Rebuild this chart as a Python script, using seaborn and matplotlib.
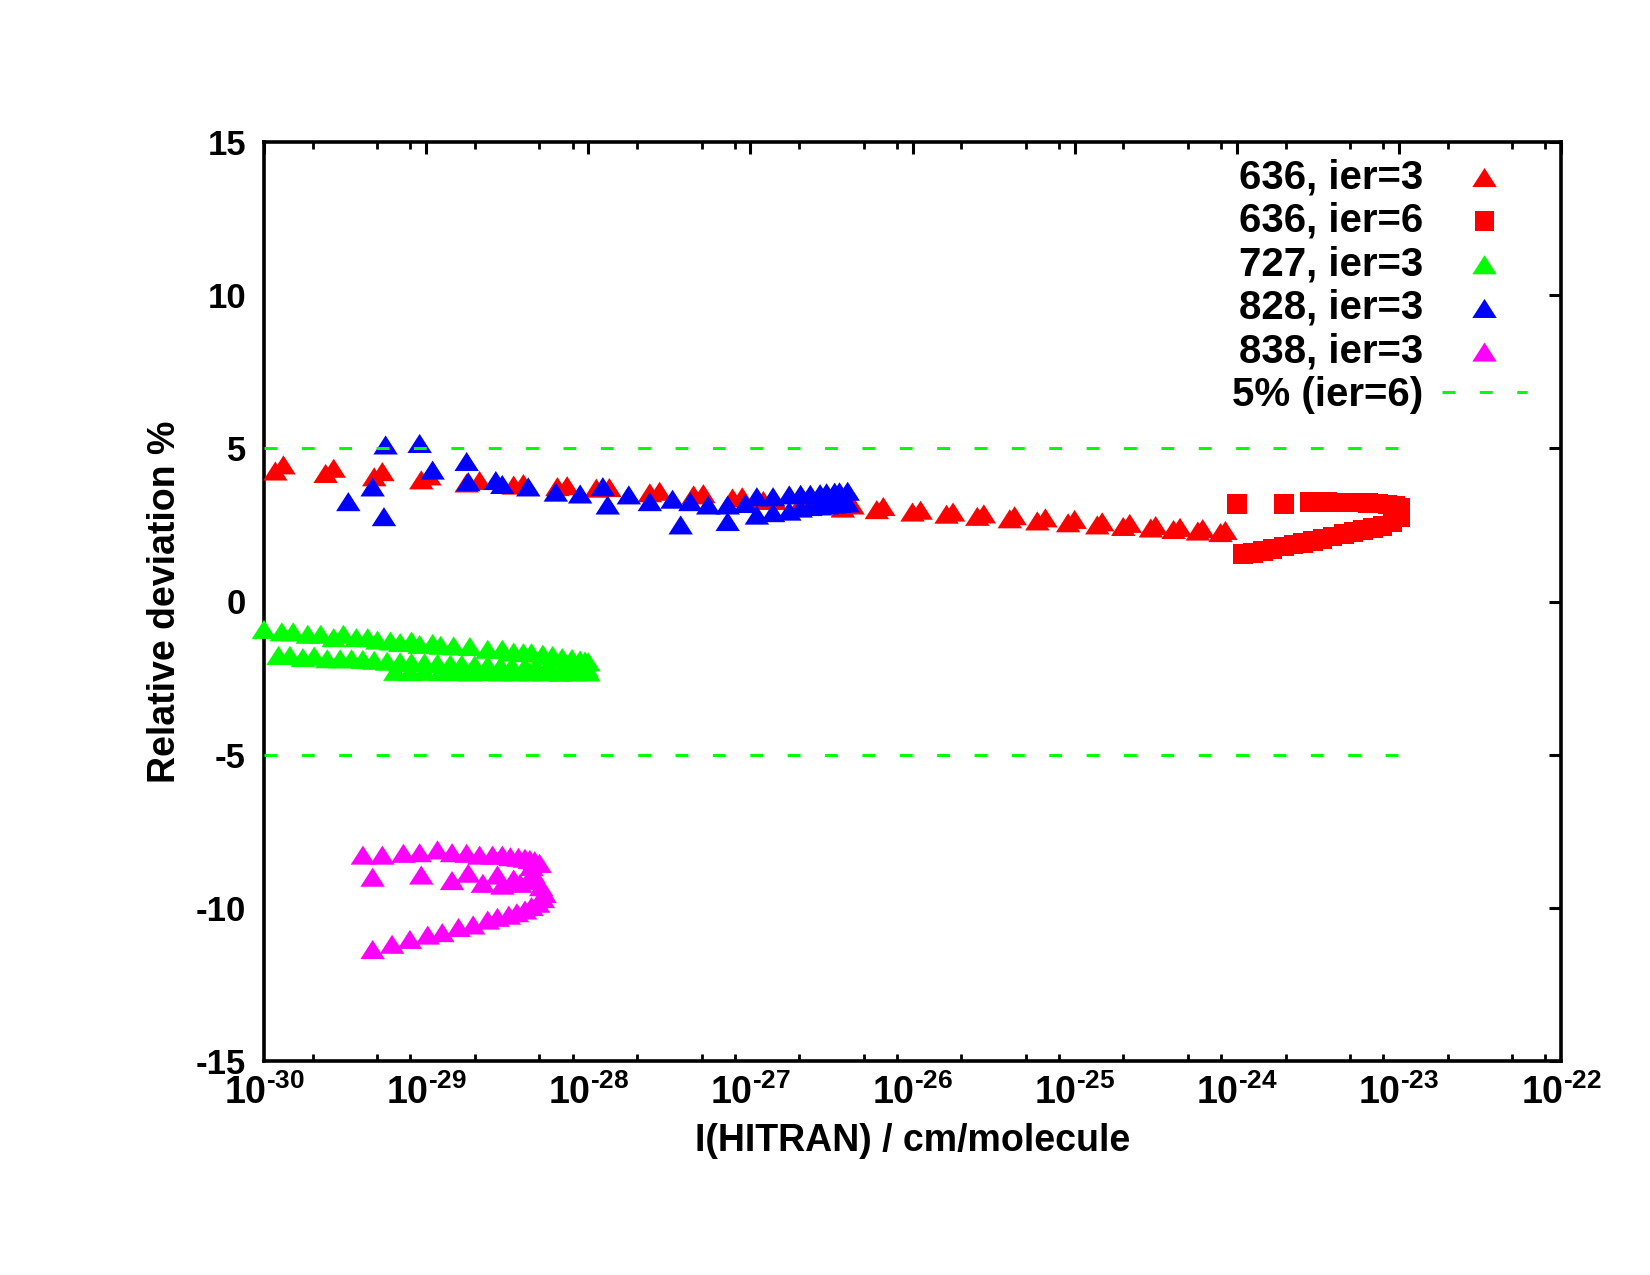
import numpy as np
import pandas as pd
import matplotlib
matplotlib.use("Agg")
import matplotlib.pyplot as plt
from matplotlib.ticker import FixedLocator, FuncFormatter, LogLocator, NullFormatter
import seaborn as sns

# ---------------- data (log10 of intensity, relative deviation %) ----------------
i636_3_logI = [-29.93, -29.88, -29.62, -29.57, -29.32, -29.27, -29.03, -28.98, -28.75, -28.67,
               -28.46, -28.40, -28.19, -28.13, -27.95, -27.87, -27.62, -27.56, -27.35, -27.29,
               -27.11, -27.05, -26.92, -26.85, -26.69, -26.63, -26.43, -26.37, -26.22, -26.18,
               -26.00, -25.95, -25.79, -25.75, -25.60, -25.56, -25.40, -25.37, -25.23, -25.18,
               -25.04, -25.00, -24.86, -24.83, -24.70, -24.66, -24.53, -24.50, -24.39, -24.35,
               -24.24, -24.21, -24.10, -24.07]
i636_3_dev = [4.26, 4.46, 4.18, 4.35, 4.07, 4.24, 3.97, 4.10, 3.87, 3.95,
              3.80, 3.85, 3.75, 3.78, 3.70, 3.72, 3.55, 3.60, 3.48, 3.52,
              3.38, 3.42, 3.30, 3.30, 3.20, 3.25, 3.05, 3.15, 3.00, 3.10,
              2.92, 2.98, 2.85, 2.92, 2.78, 2.86, 2.70, 2.80, 2.63, 2.73,
              2.57, 2.68, 2.50, 2.60, 2.45, 2.55, 2.40, 2.48, 2.35, 2.42,
              2.30, 2.38, 2.25, 2.32]

i636_6_logI = [-24.00, -23.71,
               -23.96, -23.90, -23.84, -23.78, -23.71, -23.65, -23.59, -23.53, -23.47, -23.41,
               -23.34, -23.28, -23.22, -23.16, -23.10, -23.04, -22.99,
               -22.99, -22.99,
               -23.02, -23.07, -23.13, -23.19, -23.25, -23.31, -23.37, -23.44, -23.50, -23.55]
i636_6_dev = [3.18, 3.18,
              1.55, 1.58, 1.65, 1.72, 1.80, 1.86, 1.92, 1.98, 2.05, 2.12,
              2.20, 2.27, 2.33, 2.40, 2.47, 2.60, 2.75,
              2.90, 3.05,
              3.12, 3.17, 3.20, 3.22, 3.23, 3.23, 3.23, 3.24, 3.24, 3.24]

i727_upper_logI = [-30.00, -29.89, -29.82, -29.73, -29.65, -29.57, -29.51, -29.43, -29.36, -29.30,
                   -29.22, -29.16, -29.09, -29.04, -28.96, -28.91, -28.83, -28.73, -28.62, -28.53,
                   -28.46, -28.40, -28.35, -28.28, -28.22, -28.16, -28.10, -28.05, -28.02, -28.00]
i727_upper_dev = [-0.91, -0.99, -0.99, -1.07, -1.07, -1.18, -1.07, -1.18, -1.18, -1.26,
                  -1.29, -1.34, -1.29, -1.40, -1.37, -1.43, -1.45, -1.47, -1.56, -1.56,
                  -1.65, -1.67, -1.67, -1.72, -1.76, -1.83, -1.86, -1.91, -1.94, -1.97]
i727_middle_logI = [-29.91, -29.84, -29.76, -29.69, -29.61, -29.53, -29.46, -29.39, -29.32, -29.24,
                    -29.16, -29.09, -29.01, -28.93, -28.85, -28.78, -28.70, -28.62, -28.54, -28.47,
                    -28.39, -28.32, -28.24, -28.16, -28.08, -28.01]
i727_middle_dev = [-1.76, -1.76, -1.83, -1.78, -1.87, -1.87, -1.87, -1.89, -1.92, -1.95,
                   -1.97, -1.99, -2.00, -2.02, -2.04, -2.05, -2.07, -2.08, -2.10, -2.11,
                   -2.12, -2.13, -2.14, -2.15, -2.16, -2.17]
i727_lower_logI = [-29.19, -29.10, -29.01, -28.91, -28.82, -28.73, -28.64, -28.54, -28.45, -28.36,
                   -28.27, -28.17, -28.08, -28.00]
i727_lower_dev = [-2.28, -2.29, -2.28, -2.29, -2.29, -2.30, -2.29, -2.30, -2.30, -2.30,
                  -2.30, -2.31, -2.30, -2.30]

i828_logI = [-29.48, -29.33, -29.25, -29.26, -29.04, -28.96, -28.75, -28.74, -28.57, -28.53,
             -28.37, -28.20, -28.05, -27.91, -27.88, -27.75, -27.62, -27.48, -27.43, -27.37,
             -27.26, -27.14, -27.14, -27.03, -26.96, -26.96, -26.86, -26.86, -26.76, -26.76,
             -26.69, -26.69, -26.63, -26.63, -26.57, -26.57, -26.53, -26.53, -26.48, -26.48,
             -26.45, -26.45, -26.40, -26.40]
i828_dev = [3.26, 3.74, 5.11, 2.77, 5.16, 4.29, 4.57, 3.91, 3.95, 3.82,
            3.74, 3.57, 3.51, 3.75, 3.15, 3.48, 3.26, 3.34, 2.50, 3.26,
            3.15, 3.15, 2.61, 3.20, 3.42, 2.82, 3.42, 2.90, 3.48, 2.95,
            3.50, 3.05, 3.50, 3.10, 3.52, 3.12, 3.55, 3.15, 3.57, 3.18,
            3.58, 3.20, 3.60, 3.22]

i838_upper_logI = [-29.39, -29.27, -29.14, -29.04, -28.93, -28.84, -28.75, -28.67, -28.59, -28.53,
                   -28.48, -28.43, -28.39, -28.36, -28.33, -28.30]
i838_upper_dev = [-8.28, -8.28, -8.22, -8.20, -8.11, -8.20, -8.22, -8.28, -8.28, -8.28,
                  -8.33, -8.35, -8.38, -8.42, -8.46, -8.55]
i838_middle_logI = [-29.33, -29.03, -28.84, -28.74, -28.65, -28.56, -28.53, -28.46, -28.42, -28.37]
i838_middle_dev = [-9.00, -8.93, -9.11, -8.87, -9.20, -8.93, -9.26, -9.06, -9.20, -9.10]
i838_lower_logI = [-29.33, -29.21, -29.10, -28.99, -28.90, -28.80, -28.71, -28.62, -28.56, -28.49,
                   -28.44, -28.39, -28.35, -28.31, -28.28, -28.27, -28.29, -28.32, -28.34, -28.35]
i838_lower_dev = [-11.36, -11.19, -11.03, -10.89, -10.81, -10.64, -10.56, -10.40, -10.31, -10.24,
                  -10.16, -10.07, -9.96, -9.85, -9.70, -9.53, -9.31, -9.09, -8.87, -8.65]

limit_logI = [-30.0, -23.0]
limit_upper = [5.0, 5.0]
limit_lower = [-5.0, -5.0]

series_labels = ["636, ier=3", "636, ier=6", "727, ier=3", "828, ier=3", "838, ier=3"]
limit_label = "5% (ier=6)"
xtick_exponents = [-30, -29, -28, -27, -26, -25, -24, -23, -22]
ytick_values = [-15, -10, -5, 0, 5, 10, 15]
ytick_labels = ["-15", "-10", "-5", "0", "5", "10", "15"]
x_label = "I(HITRAN) / cm/molecule"
y_label = "Relative deviation %"

# ---------------- style ----------------
sns.set_theme(style="white")
plt.rcParams["font.family"] = ["Liberation Sans", "DejaVu Sans"]
plt.rcParams["font.weight"] = "bold"
plt.rcParams["axes.unicode_minus"] = False
plt.rcParams["mathtext.fontset"] = "custom"
plt.rcParams["mathtext.rm"] = "Liberation Sans:bold"
plt.rcParams["mathtext.bf"] = "Liberation Sans:bold"
plt.rcParams["mathtext.it"] = "Liberation Sans:bold"

FS_TICK = 25
FS_XTICK = 27
FS_LABEL = 27
FS_LEG = 29
TRI = [(-1.0, -0.78), (1.0, -0.78), (0.0, 0.78)]
TRI_S = 310
SQ_S = 200
DASH = (4.2, 8.03)

fig = plt.figure(figsize=(16.5, 12.75), dpi=100)
fig.patch.set_facecolor("white")
ax = fig.add_axes([264 / 1650, 1 - 1061 / 1275, (1561 - 264) / 1650, (1061 - 142) / 1275])
ax.set_facecolor("white")


def frame(logs, devs):
    return pd.DataFrame({"I": np.power(10.0, np.asarray(logs, dtype=float)),
                         "dev": np.asarray(devs, dtype=float)})


common = dict(ax=ax, linewidth=0, edgecolor="none", clip_on=False, legend=False)
sns.scatterplot(data=frame(i636_3_logI, i636_3_dev), x="I", y="dev", marker=TRI, s=TRI_S,
                color="#ff0000", label=series_labels[0], zorder=3, **common)
sns.scatterplot(data=frame(i636_6_logI, i636_6_dev), x="I", y="dev", marker="s", s=SQ_S,
                color="#ff0000", label=series_labels[1], zorder=3, **common)
sns.scatterplot(data=frame(i727_upper_logI + i727_middle_logI + i727_lower_logI,
                           i727_upper_dev + i727_middle_dev + i727_lower_dev),
                x="I", y="dev", marker=TRI, s=TRI_S, color="#00ff00",
                label=series_labels[2], zorder=3, **common)
sns.scatterplot(data=frame(i828_logI, i828_dev), x="I", y="dev", marker=TRI, s=TRI_S,
                color="#0000ff", label=series_labels[3], zorder=3, **common)
sns.scatterplot(data=frame(i838_upper_logI + i838_middle_logI + i838_lower_logI,
                           i838_upper_dev + i838_middle_dev + i838_lower_dev),
                x="I", y="dev", marker=TRI, s=TRI_S, color="#ff00ff",
                label=series_labels[4], zorder=3, **common)

lim_x = np.power(10.0, np.asarray(limit_logI))
ax.plot(lim_x, limit_upper, color="#00ff00", lw=2.2, dashes=DASH, label=limit_label, zorder=4)
ax.plot(lim_x, limit_lower, color="#00ff00", lw=2.2, dashes=DASH, zorder=4)

ax.set_xscale("log")
ax.set_xlim(10.0 ** xtick_exponents[0], 10.0 ** xtick_exponents[-1])
ax.set_ylim(ytick_values[0], ytick_values[-1])

ax.xaxis.set_major_locator(FixedLocator([10.0 ** e for e in xtick_exponents]))
ax.xaxis.set_major_formatter(FuncFormatter(
    lambda v, p: r"$\mathbf{10^{\text{-%d}}}$" % abs(int(round(np.log10(v))))))
ax.xaxis.set_minor_locator(LogLocator(base=10, subs=[2.0, 5.0, 8.0], numticks=50))
ax.xaxis.set_minor_formatter(NullFormatter())
ax.set_yticks(ytick_values)
ax.set_yticklabels(ytick_labels)

for sp in ax.spines.values():
    sp.set_visible(True)
    sp.set_color("black")
    sp.set_linewidth(2.6)
ax.tick_params(axis="both", which="major", direction="in", length=8.5, width=2.2,
               color="black", top=True, right=True, labelcolor="black")
ax.tick_params(axis="y", which="major", pad=13, labelsize=FS_TICK)
ax.tick_params(axis="x", which="major", pad=9.5, labelsize=FS_XTICK)
ax.tick_params(axis="x", which="minor", direction="in", length=5, width=2.0,
               color="black", top=True, bottom=True)
for t in ax.get_yticklabels():
    t.set_fontweight("bold")

ax.set_xlabel(x_label, fontsize=FS_LABEL, fontweight="bold", labelpad=8, color="black")
ax.set_ylabel(y_label, fontsize=FS_LABEL, fontweight="bold", labelpad=9, color="black")

leg = ax.legend(loc="upper right", bbox_to_anchor=(0.9738, 0.9825), markerfirst=False,
                frameon=False, fontsize=FS_LEG, handlelength=2.11, handletextpad=0.47,
                labelspacing=0.14, borderpad=0, borderaxespad=0, scatterpoints=1)
for t in leg.get_texts():
    t.set_fontweight("bold")
    t.set_color("black")

fig.savefig("out.png", dpi=100, facecolor="white")
